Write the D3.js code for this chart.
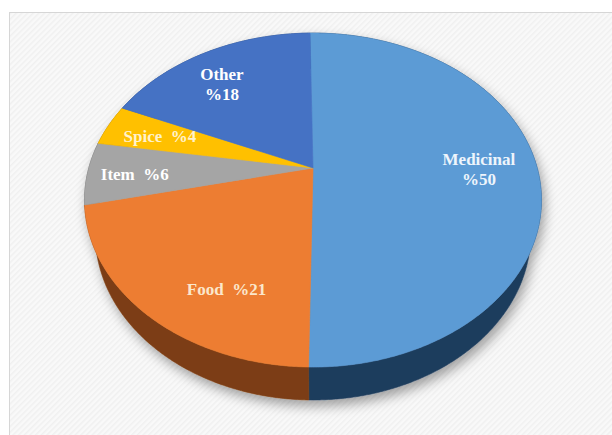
<!DOCTYPE html>
<html>
<head>
<meta charset="utf-8">
<script src="https://cdn.jsdelivr.net/npm/d3@7/dist/d3.min.js"></script>
<style>
  body { margin: 0; background: #fff; }
  svg { display: block; }
  .label { font-family: 'Liberation Serif', 'Times New Roman', serif; font-weight: bold; font-size: 17px; white-space: pre; }
</style>
</head>
<body>
<svg id="chart"></svg>
<script>
var categories = ['Medicinal', 'Food', 'Item', 'Spice', 'Other'];
var shares = [50, 21, 6, 4, 18];
var colors = ['#5b9bd5', '#ed7d31', '#a5a5a5', '#ffc000', '#4472c4'];
var sideColors = ['#1f3d5d', '#7c3c12', '#5a5a5a', '#8c6a00', '#243f72'];
var labelColors = ['#eef5fc', '#fbe7cc', '#ffffff', '#fff2cc', '#ffffff'];

document.addEventListener('DOMContentLoaded', () => {
  var width = 612, height = 435;

  // perspective view of a tilted disc
  var view = { cx: 313, cy: 168, tilt: 0.8, k: 0.192, spread: 224.2, depth: 0.241 };
  var sinA = Math.sin(view.tilt), cosA = Math.cos(view.tilt);
  var D = cosA / view.k;
  var F = view.spread * D;

  var project = (theta, r, yv) => {
    var X = r * Math.sin(theta), Z = -r * Math.cos(theta);
    var d = D - Z * cosA - yv * sinA;
    return [view.cx + F * X / d, view.cy - F * (yv * cosA - Z * sinA) / d];
  };

  // label placement on the disc: radius and small angle nudges (degrees)
  var labelRadius = { Item: 0.79 };
  var labelNudge = { Food: -12, Other: -4, Item: -1 };
  var twoLine = { Medicinal: true, Other: true };

  var data = categories.map((c, i) => ({ name: c, value: shares[i], i: i }));
  var total = d3.sum(shares);
  var offset = -(shares[0] / total * 2 * Math.PI - Math.PI) / 2;

  var pie = d3.pie()
    .sort(null)
    .value(d => d.value)
    .startAngle(offset)
    .endAngle(offset + 2 * Math.PI);

  var slices = pie(data);
  var fill = d3.scaleOrdinal().domain(categories).range(colors);
  var sideFill = d3.scaleOrdinal().domain(categories).range(sideColors);

  var line = d3.line();
  var step = Math.PI / 360;
  var rim = (a0, a1, yv) => {
    var pts = d3.range(a0, a1, step).map(a => project(a, 1, yv));
    pts.push(project(a1, 1, yv));
    return pts;
  };

  var svg = d3.select('#chart')
    .attr('width', width)
    .attr('height', height);

  var defs = svg.append('defs');
  var pat = defs.append('pattern')
    .attr('id', 'hatch')
    .attr('width', 4)
    .attr('height', 4)
    .attr('patternUnits', 'userSpaceOnUse')
    .attr('patternTransform', 'rotate(45)');
  pat.append('rect').attr('width', 4).attr('height', 4).attr('fill', '#f9f9f9');
  pat.append('rect').attr('width', 1.5).attr('height', 4).attr('fill', '#f0f0f0');

  var shadow = defs.append('filter')
    .attr('id', 'shadow')
    .attr('x', '-20%').attr('y', '-20%')
    .attr('width', '140%').attr('height', '140%');
  shadow.append('feDropShadow')
    .attr('dx', 3).attr('dy', 6)
    .attr('stdDeviation', 6)
    .attr('flood-color', '#000')
    .attr('flood-opacity', 0.35);

  // frame
  svg.append('rect')
    .attr('x', 9.5)
    .attr('y', 12.5)
    .attr('width', width + 20)
    .attr('height', height + 20)
    .attr('fill', 'url(#hatch)')
    .attr('stroke', '#d6d6d6');

  var chart = svg.append('g').attr('filter', 'url(#shadow)');

  // side walls, back ones first
  var sides = slices.slice().sort((a, b) =>
    Math.cos((b.startAngle + b.endAngle) / 2) - Math.cos((a.startAngle + a.endAngle) / 2));

  chart.selectAll('.side')
    .data(sides)
    .enter().append('path')
      .attr('class', 'side')
      .attr('d', s => {
        var top = rim(s.startAngle, s.endAngle, 0);
        var bottom = rim(s.startAngle, s.endAngle, -view.depth).reverse();
        return line(top.concat(bottom)) + 'Z';
      })
      .attr('fill', s => sideFill(s.data.name))
      .attr('stroke', s => sideFill(s.data.name))
      .attr('stroke-width', 0.6);

  // top faces
  chart.selectAll('.top')
    .data(slices)
    .enter().append('path')
      .attr('class', 'top')
      .attr('d', s => line([project(0, 0, 0)].concat(rim(s.startAngle, s.endAngle, 0))) + 'Z')
      .attr('fill', s => fill(s.data.name))
      .attr('stroke', s => fill(s.data.name))
      .attr('stroke-width', 0.6);

  // labels
  svg.selectAll('.label')
    .data(slices)
    .enter().append('text')
      .attr('class', 'label')
      .attr('text-anchor', 'middle')
      .attr('fill', s => labelColors[s.data.i])
      .each(function (s) {
        var name = s.data.name;
        var mid = (s.startAngle + s.endAngle) / 2 + (labelNudge[name] || 0) * Math.PI / 180;
        var p = project(mid, labelRadius[name] || 0.74, 0);
        var t = d3.select(this);
        var pct = '%' + s.data.value;
        if (twoLine[name]) {
          t.append('tspan').attr('x', p[0]).attr('y', p[1] - 3).text(name);
          t.append('tspan').attr('x', p[0]).attr('y', p[1] + 17).text(pct);
        } else {
          t.append('tspan').attr('x', p[0]).attr('y', p[1] + 6).text(name + '  ' + pct);
        }
      });
});
</script>
</body>
</html>
